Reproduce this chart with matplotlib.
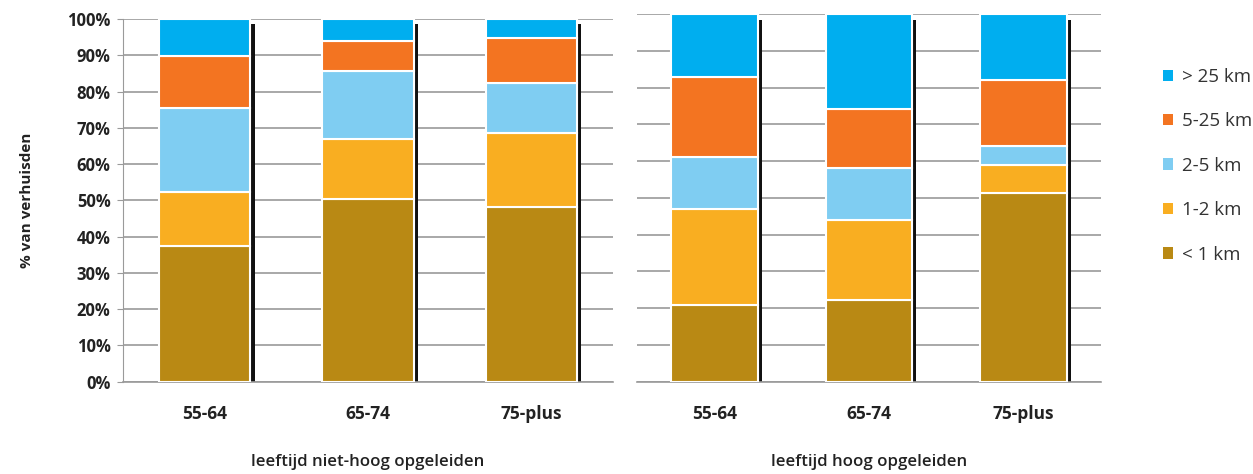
import numpy as np
import matplotlib
matplotlib.use("Agg")
import matplotlib.pyplot as plt
from matplotlib.patches import Patch

plt.rcParams['font.family'] = ['Open Sans', 'DejaVu Sans']

# data: % van verhuisden per afstandsklasse
ages = ['55-64', '65-74', '75-plus']
series = ['< 1 km', '1-2 km', '2-5 km', '5-25 km', '> 25 km']
colors = ['#B98914', '#F9AE21', '#7FCDF2', '#F37421', '#00AEEF']

niet_hoog_lt1 = [37.4, 50.5, 48.2]
niet_hoog_1_2 = [14.9, 16.4, 20.5]
niet_hoog_2_5 = [23.1, 18.8, 13.6]
niet_hoog_5_25 = [14.4, 8.2, 12.5]
niet_hoog_gt25 = [10.2, 6.1, 5.2]

hoog_lt1 = [20.9, 22.1, 51.3]
hoog_1_2 = [26.1, 22.0, 7.6]
hoog_2_5 = [14.1, 14.1, 5.1]
hoog_5_25 = [21.8, 16.0, 18.0]
hoog_gt25 = [17.1, 25.8, 18.0]

panels = [
    ('leeftijd niet-hoog opgeleiden',
     [niet_hoog_lt1, niet_hoog_1_2, niet_hoog_2_5, niet_hoog_5_25, niet_hoog_gt25]),
    ('leeftijd hoog opgeleiden',
     [hoog_lt1, hoog_1_2, hoog_2_5, hoog_5_25, hoog_gt25]),
]

fig = plt.figure(figsize=(12.53, 4.74), dpi=100)
W, H = 1253, 474
boxes = [(123, 613, 19), (637, 1101, 14)]  # left px, right px, top px
bottom_px = 381.7

width = 0.56
x = np.arange(len(ages))
for (title, stacks), (l, r, t) in zip(panels, boxes):
    ax = fig.add_axes([l / W, 1 - bottom_px / H, (r - l) / W, (bottom_px - t) / H])
    total = np.sum(stacks, axis=0)
    # schaduw rechts van de balken
    ax.bar(x + width / 2 + 0.014, total * 0.985, width=0.026, color='#111111', zorder=2)
    base = np.zeros(len(ages))
    for vals, c in zip(stacks, colors):
        ax.bar(x, vals, width, bottom=base, color=c, edgecolor='white', linewidth=1.5, zorder=3)
        base += np.array(vals)
    ax.set_xlim(-0.5, 2.5)
    ax.set_ylim(0, 100)
    ax.set_yticks(np.arange(0, 101, 10))
    ax.grid(axis='y', color='#9a9a9a', linewidth=1.2, zorder=0)
    ax.set_axisbelow(True)
    for s in ['top', 'right', 'left']:
        ax.spines[s].set_visible(False)
    ax.spines['bottom'].set_color('#9a9a9a')
    ax.spines['bottom'].set_linewidth(1.2)
    ax.set_xticks(x)
    ax.set_xticklabels(ages, fontsize=12.5, fontweight='bold', color='#222222')
    ax.tick_params(axis='x', length=0, pad=17)
    ax.set_xlabel(title, fontsize=12.2, fontweight='semibold', color='#222222', labelpad=22)
    if l == 123:
        ax.spines['left'].set_visible(True)
        ax.spines['left'].set_color('#9a9a9a')
        ax.set_yticklabels([f'{v}%' for v in range(0, 101, 10)], fontsize=12,
                           fontweight='bold', color='#222222')
        ax.tick_params(axis='y', length=4, color='#9a9a9a', pad=5)
        ax.set_ylabel('% van verhuisden', fontsize=11, fontweight='bold', color='#222222', labelpad=24)
    else:
        ax.tick_params(axis='y', length=0, labelleft=False)

handles = [Patch(facecolor=c, edgecolor='none') for c in colors][::-1]
fig.legend(handles, series[::-1], loc='upper left', bbox_to_anchor=(1146 / W, 1 - 51 / H),
           frameon=False, fontsize=13.5, handlelength=0.55, handleheight=0.55,
           handletextpad=0.45, labelspacing=1.41, labelcolor='#333333')

fig.savefig('out.png', dpi=100)
